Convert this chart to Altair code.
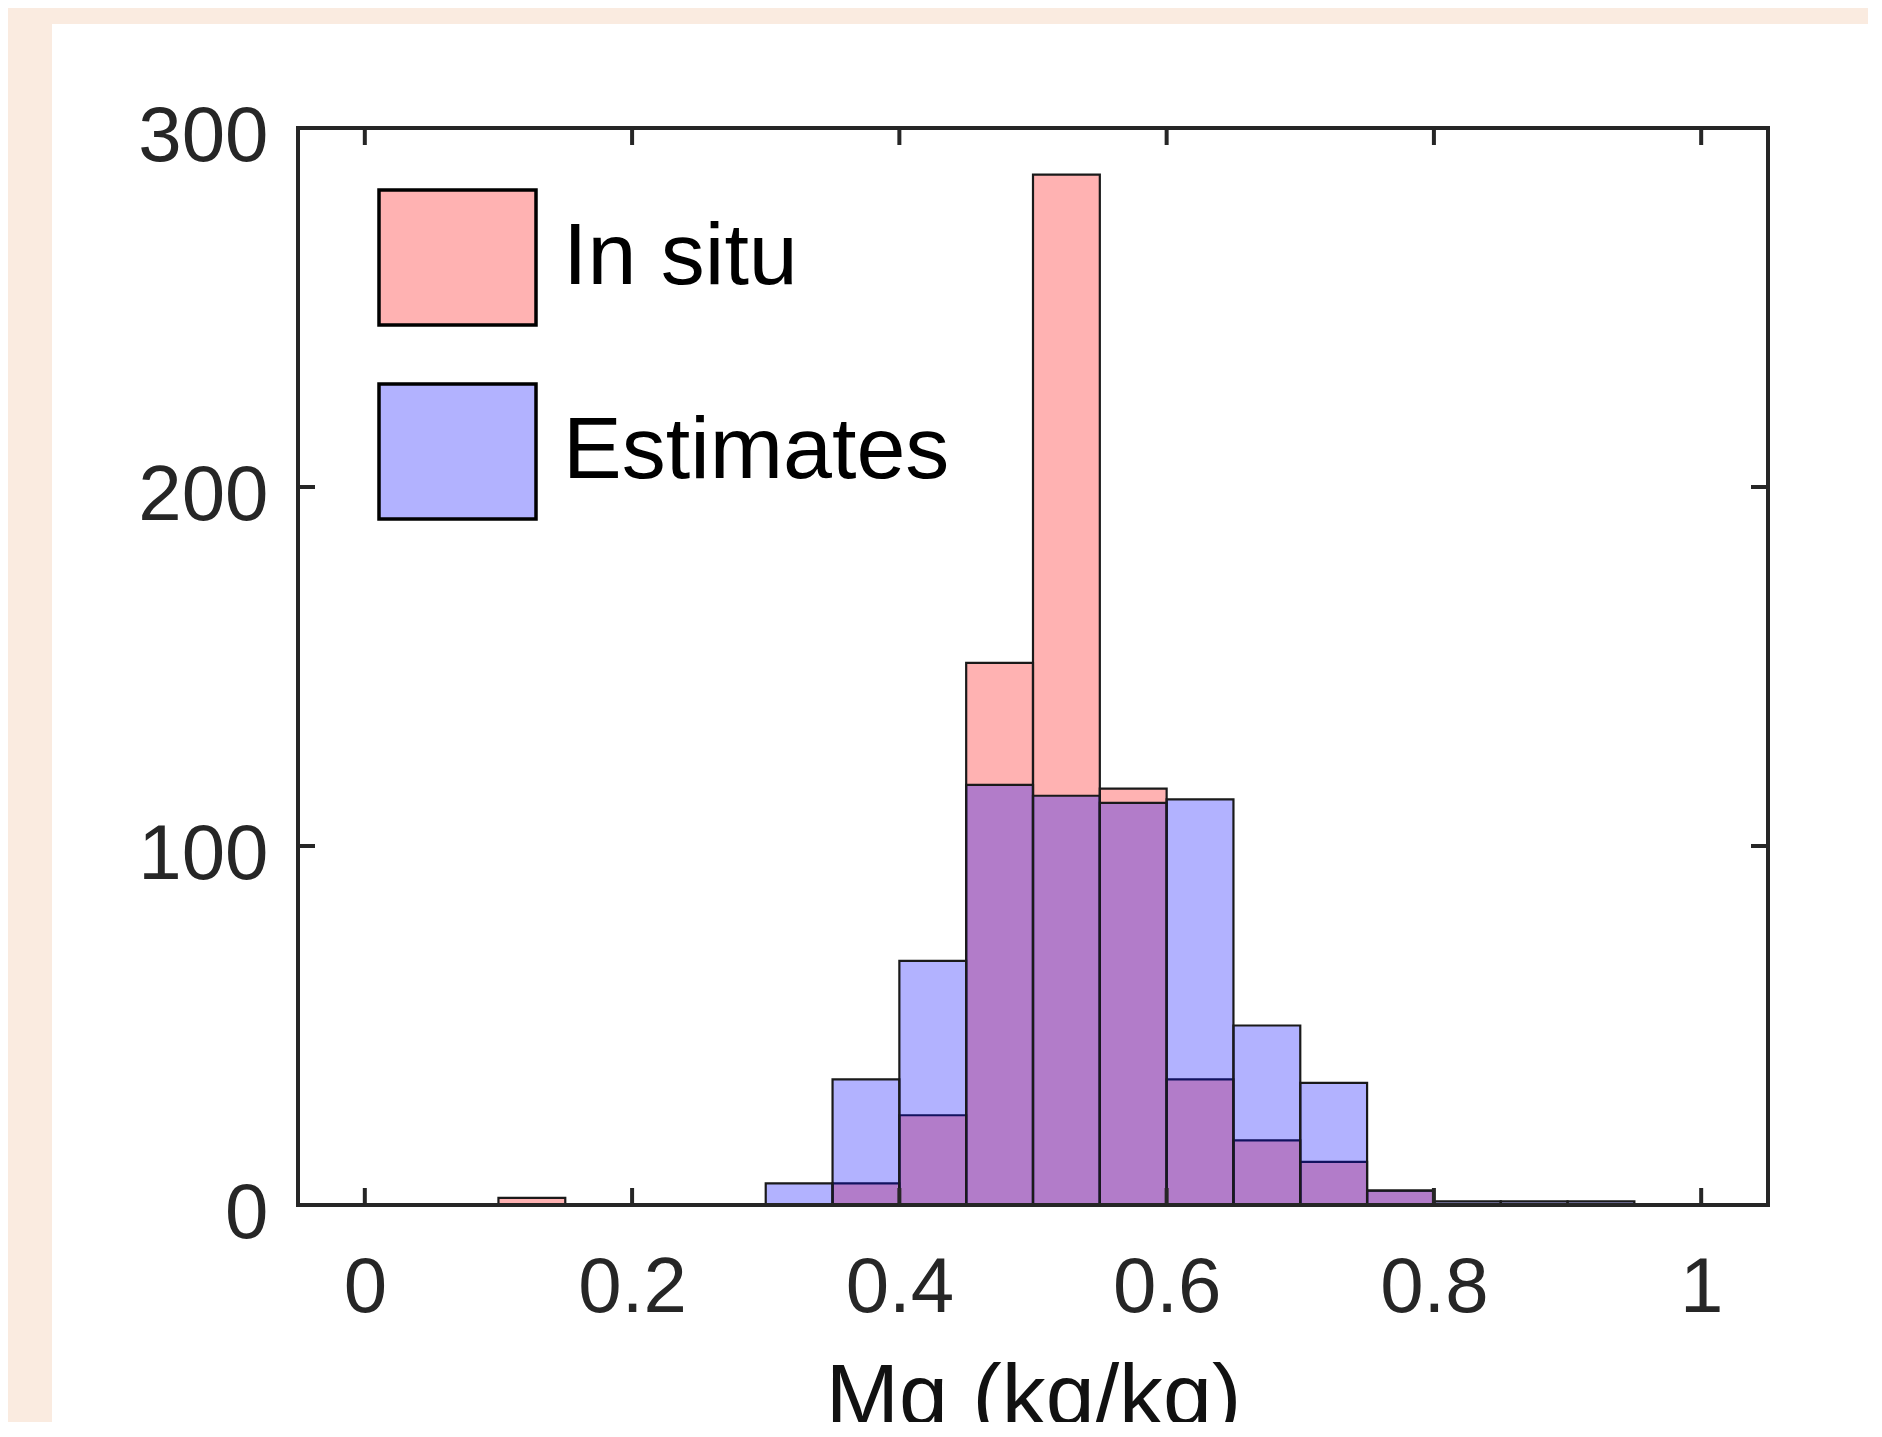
import altair as alt
import pandas as pd

# ---- data (histogram counts, bin width 0.05) ----
BIN_WIDTH = 0.05
insitu_starts = [0.10, 0.15, 0.20, 0.25, 0.30, 0.35, 0.40, 0.45, 0.50, 0.55, 0.60, 0.65, 0.70, 0.75]
insitu_counts = [2, 0, 0, 0, 0, 6, 25, 151, 287, 116, 35, 18, 12, 4]
est_starts = [0.30, 0.35, 0.40, 0.45, 0.50, 0.55, 0.60, 0.65, 0.70, 0.75, 0.80, 0.85, 0.90]
est_counts = [6, 35, 68, 117, 114, 112, 113, 50, 34, 4, 1, 1, 1]
series_names = ["In situ", "Estimates"]
series_colors = ["rgba(255,0,0,0.3)", "rgba(0,0,255,0.3)"]
x_ticks = [0, 0.2, 0.4, 0.6, 0.8, 1.0]
y_ticks = [0, 100, 200, 300]
x_title = "Mg (kg/kg)"

rows = []
for s, c in zip(insitu_starts, insitu_counts):
    rows.append({"series": "In situ", "lo": s, "hi": round(s + BIN_WIDTH, 4), "count": c})
for s, c in zip(est_starts, est_counts):
    rows.append({"series": "Estimates", "lo": s, "hi": round(s + BIN_WIDTH, 4), "count": c})
df = pd.DataFrame(rows)

xt = pd.DataFrame({"lo": x_ticks})
yt = pd.DataFrame({"count": y_ticks})
one = pd.DataFrame({"a": [0]})

W, H = 1470, 1077
PAD_L, PAD_T = 290, 120
CANVAS_W, CANVAS_H = 1860, 1414
PAD_R = CANVAS_W - PAD_L - W
PAD_B = CANVAS_H - PAD_T - H
FONT = "Liberation Sans"
AXC = "#262626"
PEACH = "#FAEBE0"
TICK = 17

xscale = alt.Scale(domain=[-0.05, 1.05], nice=False, zero=False)
yscale = alt.Scale(domain=[0, 300], nice=False, zero=True)

xaxis = alt.Axis(values=x_ticks, format="~g", title=x_title, labelPadding=44,
                 titleY=149, titleBaseline="top", titleFontSize=88, zindex=3)
yaxis = alt.Axis(values=y_ticks, format="d", title=None, labelPadding=30, labelOffset=9, zindex=3)

# peach surround (left and top strips) outside the white figure panel
strip_left = alt.Chart(one).mark_rect(fill=PEACH, clip=False).encode(
    x=alt.value(-PAD_L - 5), x2=alt.value(-246),
    y=alt.value(-PAD_T - 5), y2=alt.value(H + PAD_B + 5),
)
strip_top = alt.Chart(one).mark_rect(fill=PEACH, clip=False).encode(
    x=alt.value(-PAD_L - 5), x2=alt.value(W + PAD_R + 5),
    y=alt.value(-PAD_T - 5), y2=alt.value(-104),
)

rect_path = "M-1,-0.86L1,-0.86L1,0.86L-1,0.86Z"

bars = alt.Chart(df).mark_rect(
    stroke="#1a1a1a", strokeWidth=2.2, strokeOpacity=1
).encode(
    x=alt.X("lo:Q", scale=xscale, axis=xaxis),
    x2="hi:Q",
    y=alt.Y("count:Q", scale=yscale, axis=yaxis),
    y2=alt.datum(0),
    color=alt.Color("series:N", scale=alt.Scale(domain=series_names, range=series_colors),
                    sort=series_names,
                    legend=alt.Legend(
                        title=None, orient="none", legendX=79, legendY=49,
                        symbolType=rect_path, symbolSize=157 * 157,
                        symbolStrokeColor="black", symbolStrokeWidth=3.5,
                        labelFontSize=88, labelFont=FONT, labelColor="black",
                        labelOffset=25, rowPadding=38, padding=0, labelLimit=0,
                    )),
)

frame = alt.Chart(one).mark_rect(filled=False, stroke=AXC, strokeWidth=4, fillOpacity=0).encode(
    x=alt.value(0), x2=alt.value(W), y=alt.value(0), y2=alt.value(H)
)

xt_bottom = alt.Chart(xt).mark_rule(color=AXC, strokeWidth=4).encode(
    x=alt.X("lo:Q", scale=xscale, axis=xaxis), y=alt.value(H), y2=alt.value(H - TICK)
)
xt_top = alt.Chart(xt).mark_rule(color=AXC, strokeWidth=4).encode(
    x=alt.X("lo:Q", scale=xscale, axis=xaxis), y=alt.value(0), y2=alt.value(TICK)
)
yt_left = alt.Chart(yt).mark_rule(color=AXC, strokeWidth=4).encode(
    y=alt.Y("count:Q", scale=yscale, axis=yaxis), x=alt.value(0), x2=alt.value(TICK)
)
yt_right = alt.Chart(yt).mark_rule(color=AXC, strokeWidth=4).encode(
    y=alt.Y("count:Q", scale=yscale, axis=yaxis), x=alt.value(W), x2=alt.value(W - TICK)
)

chart = alt.layer(strip_left, strip_top, bars, frame, xt_bottom, xt_top, yt_left, yt_right).properties(
    width=W, height=H,
    autosize=alt.AutoSizeParams(type="none"),
    padding={"left": PAD_L, "top": PAD_T, "right": PAD_R, "bottom": PAD_B},
    background="white",
).configure_view(stroke=None).configure_axis(
    domain=False, ticks=False, grid=False,
    labelFont=FONT, labelFontSize=78, labelColor=AXC,
    titleFont=FONT, titleFontWeight="normal", titleColor="#111111",
)

chart.save("out.html", embed_options={"renderer": "svg", "actions": False})
